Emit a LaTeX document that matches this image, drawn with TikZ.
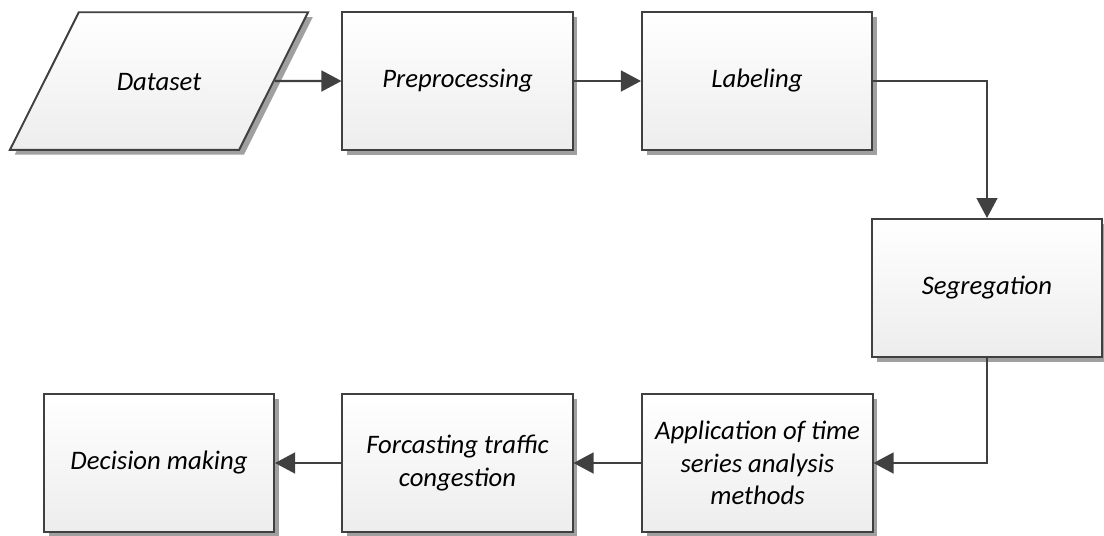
\documentclass[tikz,border=0pt]{standalone}
\usepackage{fontspec}
\setmainfont{Carlito}
\usetikzlibrary{arrows.meta,shapes.geometric,shadows}
\definecolor{boxline}{HTML}{404040}
\definecolor{boxfill}{HTML}{EDEDED}
\definecolor{boxshadow}{HTML}{A0A0A0}
\tikzset{
  stage/.style={draw=boxline,line width=1.4pt,top color=white,bottom color=boxfill,
    minimum width=5.75cm,minimum height=3.45cm,align=center,inner sep=2pt,
    font=\fontsize{19}{23}\selectfont\itshape,
    drop shadow={shadow xshift=0.12cm,shadow yshift=-0.12cm,fill=boxshadow,opacity=1}},
  datastage/.style={stage,trapezium,trapezium left angle=63.4,trapezium right angle=116.6,
    trapezium stretches body=true,minimum width=7.45cm,minimum height=0pt,
    inner sep=0pt,text height=55.5pt,text depth=42.3pt},
  flow/.style={draw=boxline,line width=1.5pt,-{Triangle[length=0.5cm,width=0.52cm]}}
}
\begin{document}
\begin{tikzpicture}[x=0.025cm,y=-0.025cm]
\useasboundingbox (0,0) rectangle (1104,535);
\node[datastage] (dataset) at (159,81) {Dataset};
\node[stage] (preproc) at (457.5,81) {Preprocessing};
\node[stage] (labeling) at (757,81) {Labeling};
\node[stage] (segreg) at (987,288) {Segregation};
\node[stage] (applic) at (757.5,463) {Application of time\\series analysis\\methods};
\node[stage] (forecast) at (457.5,463) {Forcasting traffic\\congestion};
\node[stage] (decision) at (159,463) {Decision making};
\draw[flow] (dataset) -- (preproc);
\draw[flow] (preproc) -- (labeling);
\draw[flow] (labeling.east) -| (segreg.north);
\draw[flow] (segreg.south) |- (applic.east);
\draw[flow] (applic) -- (forecast);
\draw[flow] (forecast) -- (decision);
\end{tikzpicture}
\end{document}
